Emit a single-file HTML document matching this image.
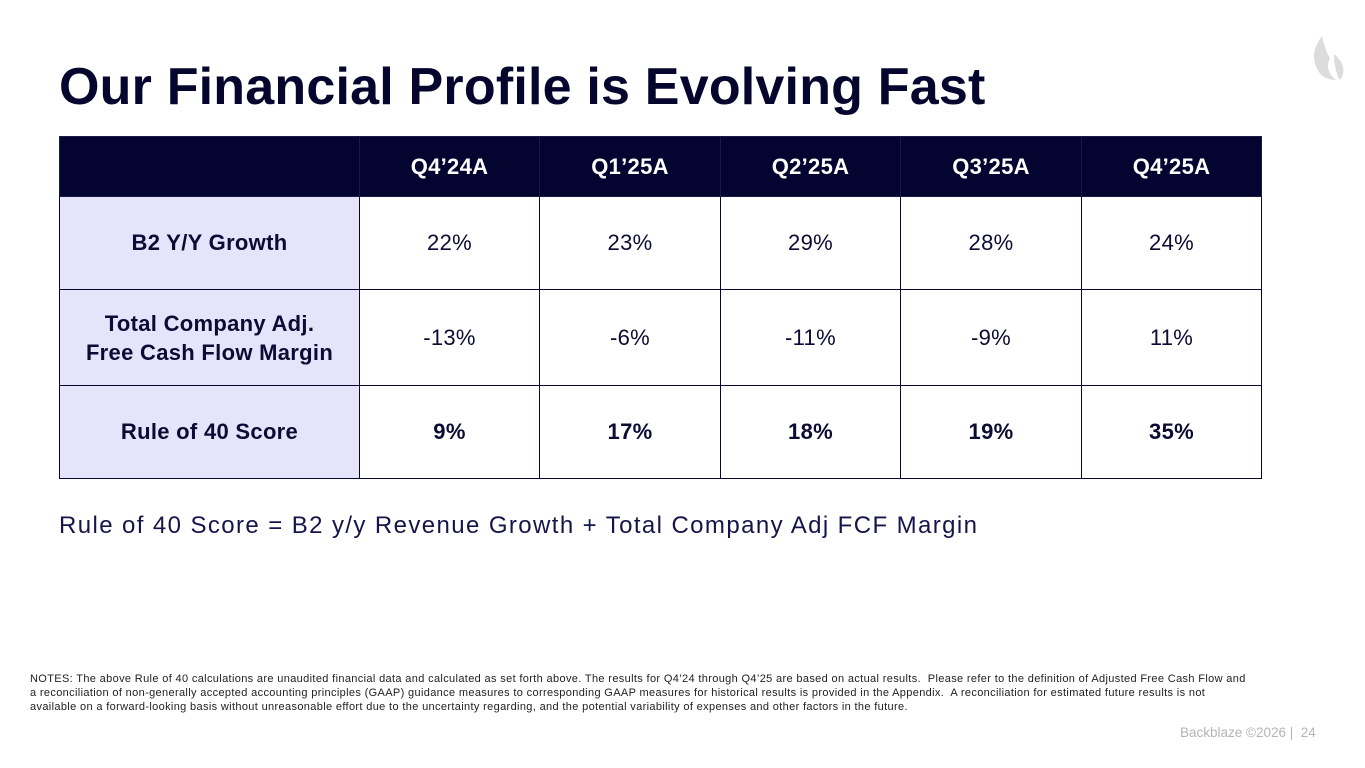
<!DOCTYPE html>
<html><head><meta charset="utf-8"><style>
body{margin:0;width:1365px;height:768px;background:#fff;position:relative;overflow:hidden;font-family:"Liberation Sans",sans-serif;color:#0b0b33}
.abs{position:absolute}
h1{position:absolute;left:59px;top:55px;margin:0;font-size:52px;font-weight:bold;color:#05052e;letter-spacing:0.2px;line-height:64px}
table{position:absolute;left:59px;top:136px;border-collapse:collapse;table-layout:fixed}
td,th{border:1.5px solid #05052e;text-align:center;font-size:22px;padding:0;letter-spacing:0.3px}
th{background:#040430;color:#fff;height:59px;font-weight:bold;border-color:#1a1a44}
td.lab{background:#e6e4fb;font-weight:bold}
td.b{font-weight:bold}
</style></head><body>
<h1>Our Financial Profile is Evolving Fast</h1>
<svg class="abs" style="left:1310px;top:34px" width="36" height="50" viewBox="0 0 36 50"><path d="M12 2 C2 16 2 26 8 36 C10 42 18 46 26 46 C18 40 16 32 20 24 C16 18 14 10 12 2Z M24 20 C34 28 36 38 30 46 C26 40 24 30 24 20Z" fill="#dcdcdc"/></svg>
<table>
<colgroup><col style="width:300px"><col style="width:180px"><col style="width:181px"><col style="width:180px"><col style="width:181px"><col style="width:180px"></colgroup>
<tr><th></th><th>Q4’24A</th><th>Q1’25A</th><th>Q2’25A</th><th>Q3’25A</th><th>Q4’25A</th></tr>
<tr style="height:93px"><td class="lab">B2 Y/Y Growth</td><td>22%</td><td>23%</td><td>29%</td><td>28%</td><td>24%</td></tr>
<tr style="height:96px"><td class="lab" style="line-height:29px">Total Company Adj.<br>Free Cash Flow Margin</td><td>-13%</td><td>-6%</td><td>-11%</td><td>-9%</td><td>11%</td></tr>
<tr style="height:93px"><td class="lab">Rule of 40 Score</td><td class="b">9%</td><td class="b">17%</td><td class="b">18%</td><td class="b">19%</td><td class="b">35%</td></tr>
</table>
<div class="abs" style="left:59px;top:512px;font-size:24px;color:#15154a;letter-spacing:1.4px;white-space:nowrap">Rule of 40 Score = B2 y/y Revenue Growth + Total Company Adj FCF Margin</div>
<div class="abs" style="left:30px;top:672px;font-size:11px;letter-spacing:0.35px;line-height:14px;color:#222;white-space:nowrap">NOTES: The above Rule of 40 calculations are unaudited financial data and calculated as set forth above. The results for Q4’24 through Q4’25 are based on actual results.&nbsp; Please refer to the definition of Adjusted Free Cash Flow and<br>a reconciliation of non-generally accepted accounting principles (GAAP) guidance measures to corresponding GAAP measures for historical results is provided in the Appendix.&nbsp; A reconciliation for estimated future results is not<br>available on a forward-looking basis without unreasonable effort due to the uncertainty regarding, and the potential variability of expenses and other factors in the future.</div>
<div class="abs" style="left:1180px;top:725px;font-size:13.5px;color:#b5b5b5">Backblaze ©2026 |&nbsp; 24</div>
</body></html>
